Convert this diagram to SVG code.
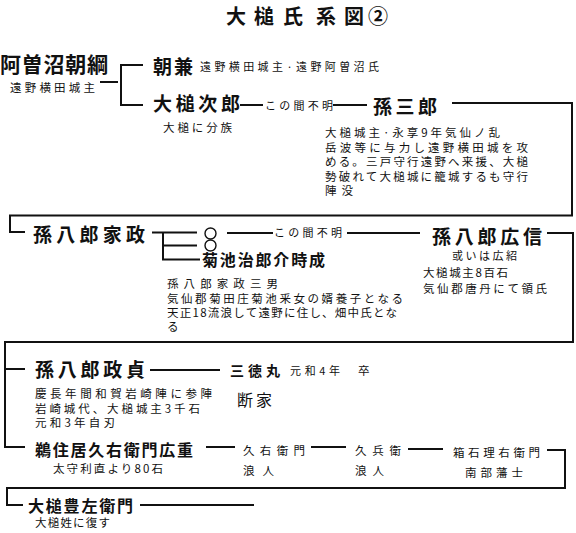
<svg xmlns="http://www.w3.org/2000/svg" width="576" height="533" viewBox="0 0 576 533">
<style>
text{font-family:"Noto Sans CJK JP","Noto Sans CJK SC",sans-serif;fill:#111;}
.nm{font-size:19px;font-weight:bold;}
.nm2{font-size:16px;font-weight:bold;}
.sm{font-size:11px;}
.md{font-size:11.5px;}
.ttl{font-size:20px;font-weight:bold;}
.ln{fill:none;stroke:#111;stroke-width:2;}
.ci{fill:#fff;stroke:#111;stroke-width:1.4;}
</style>
<rect width="576" height="533" fill="#fff"/>
<text class="ttl" x="226 254 283 305 316 344 368" y="24">大槌氏　系図②</text>

<g id="connectors" class="ln">
<path d="M100 82H118M143 65H121V105H143"/>
<path d="M240 105H263M333 105H367"/>
<path d="M452 103H572V215.5H10V232H25"/>
<path d="M152 232.5H197M163 232.5V259.5H200M163 245.5H197"/>
<path d="M227 233H273M347 233H420"/>
<path d="M547 233H573V342H5V447H25M5 369H25"/>
<path d="M150 370H220"/>
<path d="M206 447H235M311 447H346M408 449H443"/>
<path d="M547 450H565V488H7V505H23"/>
<path d="M140 505H254"/>
</g>

<g id="n-asonuma-tomotsuna">
<text class="nm" x="0" y="72" textLength="108" lengthAdjust="spacing" style="font-size:21px">阿曽沼朝綱</text>
<text class="md" x="10" y="92" textLength="85" lengthAdjust="spacing">遠野横田城主</text>
</g>
<g id="n-tomokane">
<text class="nm" x="153" y="74" textLength="40" lengthAdjust="spacing">朝兼</text>
<text class="sm" x="200" y="71" textLength="179" lengthAdjust="spacing">遠野横田城主·遠野阿曽沼氏</text>
</g>
<g id="n-otsuchi-jiro">
<text class="nm" x="153" y="111" textLength="87" lengthAdjust="spacing">大槌次郎</text>
<text class="md" x="163" y="132" textLength="69" lengthAdjust="spacing">大槌に分族</text>
</g>
<g id="l-unknown1">
<text class="sm" x="265" y="110" textLength="68" lengthAdjust="spacing">この間不明</text>
</g>
<g id="n-magosaburo">
<text class="nm" x="373" y="114" textLength="64" lengthAdjust="spacing">孫三郎</text>
<text class="md" x="325" y="137" textLength="175" lengthAdjust="spacing">大槌城主·永享9年気仙ノ乱</text>
<text class="md" x="325" y="151.5" textLength="203" lengthAdjust="spacing">岳波等に与力し遠野横田城を攻</text>
<text class="md" x="325" y="166" textLength="203" lengthAdjust="spacing">める。三戸守行遠野へ来援、大槌</text>
<text class="md" x="325" y="180.5" textLength="203" lengthAdjust="spacing">勢破れて大槌城に籠城するも守行</text>
<text class="md" x="325" y="195" textLength="28" lengthAdjust="spacing">陣没</text>
</g>
<g id="n-magohachiro-iemasa">
<text class="nm" x="33" y="242" textLength="112" lengthAdjust="spacing">孫八郎家政</text>
</g>
<g id="n-circle1"><circle class="ci" cx="210.5" cy="233.5" r="5.5"/></g>
<g id="n-circle2"><circle class="ci" cx="210.5" cy="245.5" r="5.5"/></g>
<g id="l-unknown2">
<text class="sm" x="274" y="237" textLength="68" lengthAdjust="spacing">この間不明</text>
</g>
<g id="n-kikuchi-tokishige">
<text class="nm2" x="202" y="266" textLength="123" lengthAdjust="spacing">菊池治郎介時成</text>
<text class="md" x="167" y="288" textLength="111" lengthAdjust="spacing">孫八郎家政三男</text>
<text class="md" x="167" y="302.5" textLength="236" lengthAdjust="spacing">気仙郡菊田庄菊池釆女の婿養子となる</text>
<text class="md" x="167" y="316.5" textLength="230" lengthAdjust="spacing">天正18流浪して遠野に住し、畑中氏とな</text>
<text class="md" x="167" y="330.5">る</text>
</g>
<g id="n-magohachiro-hironobu">
<text class="nm" x="432" y="244" textLength="110" lengthAdjust="spacing">孫八郎広信</text>
<text class="sm" x="452" y="260" textLength="65" lengthAdjust="spacing">或いは広紹</text>
<text class="md" x="423" y="277" textLength="85" lengthAdjust="spacing">大槌城主8百石</text>
<text class="md" x="423" y="293" textLength="124" lengthAdjust="spacing">気仙郡唐丹にて領氏</text>
</g>
<g id="n-magohachiro-masasada">
<text class="nm" x="35" y="377" textLength="110" lengthAdjust="spacing">孫八郎政貞</text>
<text class="md" x="35" y="398" textLength="177" lengthAdjust="spacing">慶長年間和賀岩崎陣に参陣</text>
<text class="md" x="35" y="412.5" textLength="165" lengthAdjust="spacing">岩崎城代、大槌城主3千石</text>
<text class="md" x="35" y="427" textLength="80" lengthAdjust="spacing">元和3年自刃</text>
</g>
<g id="n-santokumaru">
<text class="md" x="230" y="376" textLength="50" lengthAdjust="spacing" style="font-size:14px;font-weight:bold">三徳丸</text>
<text class="sm" x="290" y="375" textLength="50" lengthAdjust="spacing">元和4年</text>
<text class="md" x="358" y="375">卒</text>
<text class="nm2" x="237" y="406" textLength="35" lengthAdjust="spacing" style="font-weight:normal">断家</text>
</g>
<g id="n-unozumai">
<text class="nm2" x="35" y="456" textLength="158" lengthAdjust="spacing">鵜住居久右衛門広重</text>
<text class="md" x="53" y="473" textLength="110" lengthAdjust="spacing">太守利直より80石</text>
</g>
<g id="n-kyuemon">
<text class="md" x="243" y="455" textLength="62" lengthAdjust="spacing">久右衛門</text>
<text class="md" x="243" y="475" textLength="31" lengthAdjust="spacing">浪人</text>
</g>
<g id="n-kyubee">
<text class="md" x="355" y="455" textLength="46" lengthAdjust="spacing">久兵衛</text>
<text class="md" x="355" y="475" textLength="29" lengthAdjust="spacing">浪人</text>
</g>
<g id="n-hakoishi">
<text class="md" x="453" y="457" textLength="87" lengthAdjust="spacing">箱石理右衛門</text>
<text class="md" x="465" y="477" textLength="58" lengthAdjust="spacing">南部藩士</text>
</g>
<g id="n-otsuchi-toyozaemon">
<text class="nm2" x="28" y="512" textLength="105" lengthAdjust="spacing">大槌豊左衛門</text>
<text class="md" x="35" y="527" textLength="75" lengthAdjust="spacing">大槌姓に復す</text>
</g>
</svg>
